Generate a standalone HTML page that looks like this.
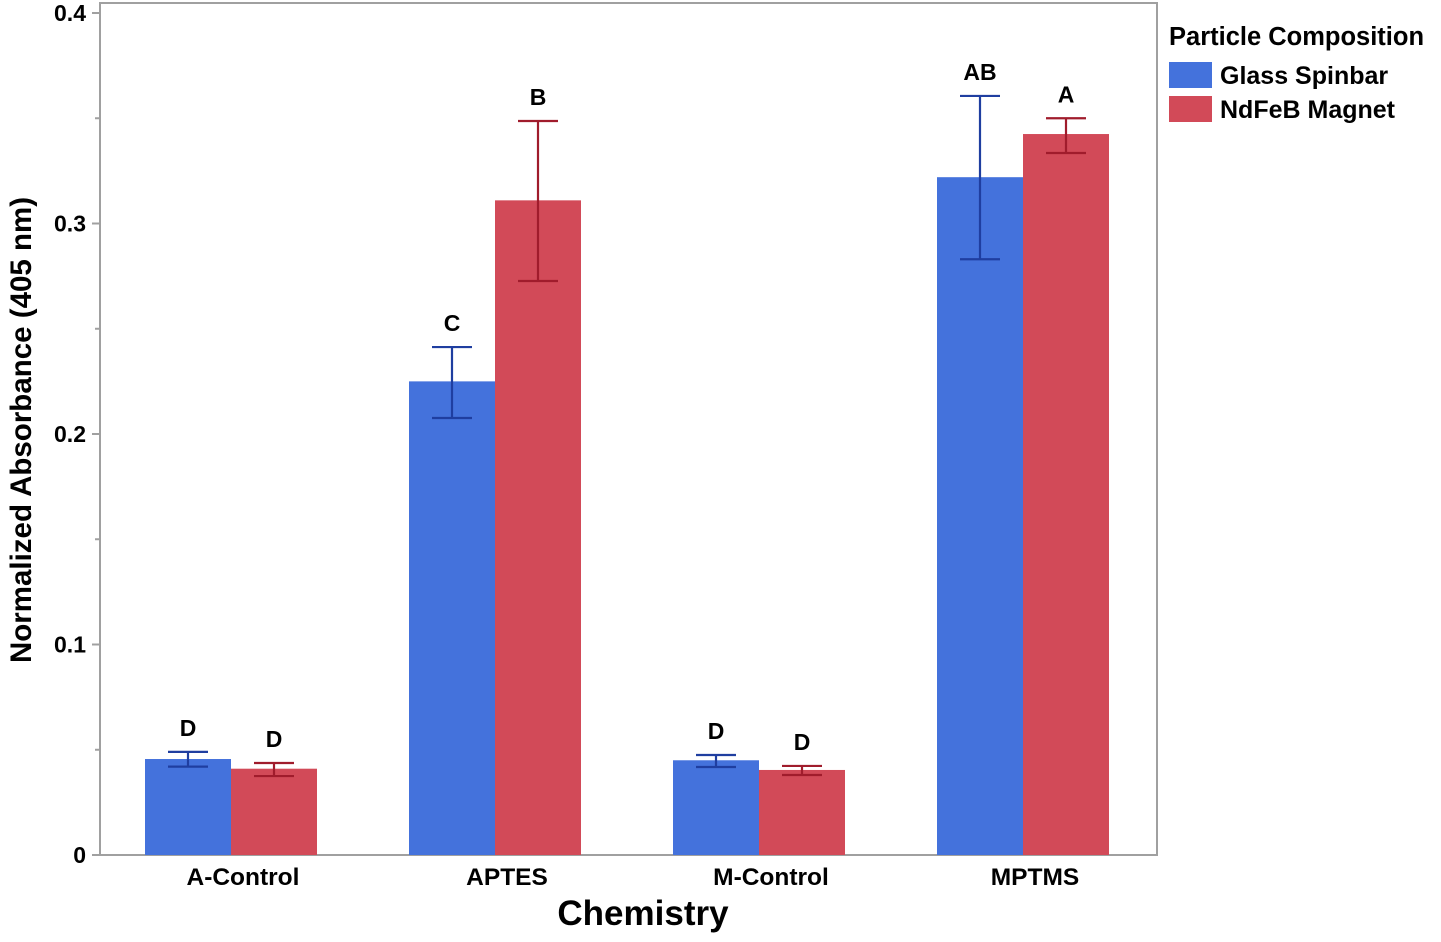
<!DOCTYPE html>
<html><head><meta charset="utf-8"><style>
body{margin:0;background:#fff;}
svg text{font-family:"Liberation Sans",Arial,sans-serif;font-weight:bold;fill:#000;}
</style></head><body>
<svg id="chart" width="1441" height="937" xmlns="http://www.w3.org/2000/svg">
<rect x="100" y="3" width="1057" height="852" fill="none" stroke="#a0a0a0" stroke-width="2"/>
<g id="yaxis"></g>
<g id="bars"></g>
<g id="xaxis"></g>
<text transform="translate(31,430) rotate(-90)" text-anchor="middle" font-size="29.5">Normalized Absorbance (405 nm)</text>
<text x="643" y="925" text-anchor="middle" font-size="35">Chemistry</text>
<g>
<text x="1169" y="45" font-size="25.5">Particle Composition</text>
<rect x="1169" y="62" width="43" height="26" fill="#4472dc"/>
<text x="1220" y="84" font-size="25">Glass Spinbar</text>
<rect x="1169" y="96" width="43" height="26" fill="#d24a58"/>
<text x="1220" y="118" font-size="25">NdFeB Magnet</text>
</g>
</svg>
<script>
const categories=["A-Control","APTES","M-Control","MPTMS"];
const glassValues=[0.0456,0.225,0.045,0.322];
const glassHigh=[0.049,0.2413,0.0475,0.3606];
const glassLow=[0.042,0.2076,0.0418,0.283];
const glassLetters=["D","C","D","AB"];
const magnetValues=[0.041,0.311,0.0404,0.3425];
const magnetHigh=[0.0437,0.3487,0.0423,0.350];
const magnetLow=[0.0375,0.2727,0.038,0.3335];
const magnetLetters=["D","B","D","A"];
const yTicks=[0,0.1,0.2,0.3,0.4];
const yTickLabels=["0","0.1","0.2","0.3","0.4"];
const yMinor=[0.05,0.15,0.25,0.35];
const NS="http://www.w3.org/2000/svg";
const y=v=>855-v*2105;
const xc=i=>231+i*264;
const bw=86;
function mk(tag,attrs,parent){const e=document.createElementNS(NS,tag);for(const k in attrs)e.setAttribute(k,attrs[k]);parent.appendChild(e);return e;}
const ya=document.getElementById('yaxis'),ba=document.getElementById('bars'),xa=document.getElementById('xaxis');
yTicks.forEach((t,i)=>{
 const l=mk('line',{x1:92,x2:100,y1:y(t),y2:y(t),stroke:'#a0a0a0','stroke-width':2},ya);
 
 
 const tx=mk('text',{x:86,y:y(t)+8,'text-anchor':'end','font-size':23},ya);tx.textContent=yTickLabels[i];
 
 
});
yMinor.forEach(t=>{
 const l=mk('line',{x1:95,x2:100,y1:y(t),y2:y(t),stroke:'#a0a0a0','stroke-width':2},ya);
 
 
});
function series(vals,hi,lo,letters,off,fill,ec,name){
 vals.forEach((v,i)=>{
  const x0=xc(i)+off;
  const r=mk('rect',{x:x0,y:y(v),width:bw,height:y(0)-y(v),fill:fill},ba);
  
  
  const cx=x0+bw/2;
  const g=mk('g',{stroke:ec,'stroke-width':2.2},ba);
  
  
  mk('line',{x1:cx,x2:cx,y1:y(hi[i]),y2:y(lo[i])},g);
  mk('line',{x1:cx-20,x2:cx+20,y1:y(hi[i]),y2:y(hi[i])},g);
  mk('line',{x1:cx-20,x2:cx+20,y1:y(lo[i]),y2:y(lo[i])},g);
  const t=mk('text',{x:cx,y:y(hi[i])-16,'text-anchor':'middle','font-size':23},ba);t.textContent=letters[i];
  
  
 });
}
series(glassValues,glassHigh,glassLow,glassLetters,-bw,'#4472dc','#1f3ea0','glass');
series(magnetValues,magnetHigh,magnetLow,magnetLetters,0,'#d24a58','#a01c2c','magnet');
categories.forEach((c,i)=>{
 const t=mk('text',{x:xc(i)+12,y:885,'text-anchor':'middle','font-size':24.5},xa);t.textContent=c;
 
 
});
</script>
</body></html>
